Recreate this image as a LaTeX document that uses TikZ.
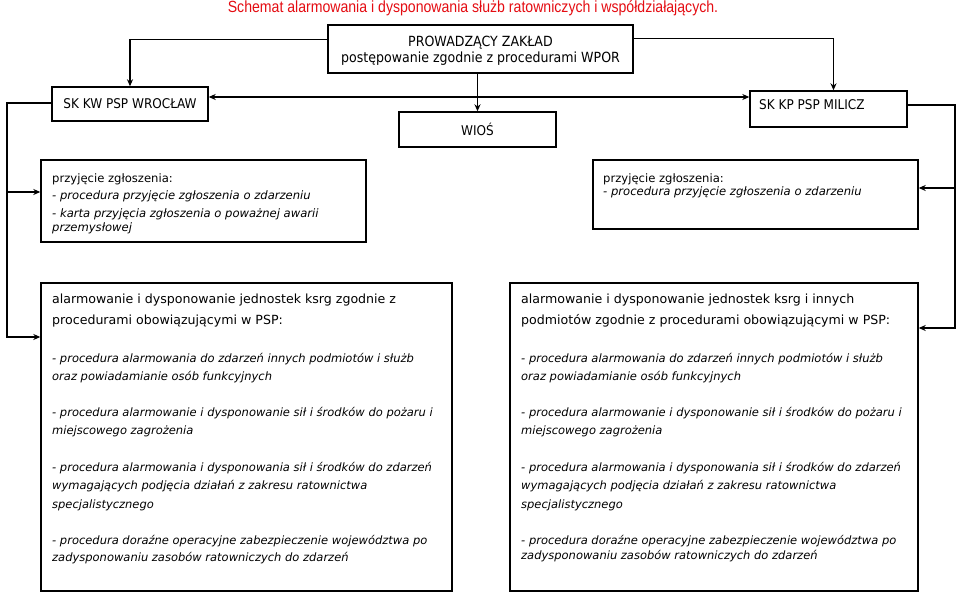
\documentclass[tikz,border=0pt]{standalone}
\usepackage{fontspec}
\setmainfont{DejaVu Sans}
\newfontfamily\titlefont[FakeStretch=0.87]{Liberation Sans}
\newfontfamily\topfont[FakeStretch=0.9]{DejaVu Sans}
\usetikzlibrary{arrows.meta,calc}
\definecolor{titlered}{RGB}{228,12,18}
\begin{document}
\begin{tikzpicture}[x=1pt,y=-1pt,
  box/.style={draw, line width=1.4pt, inner sep=0pt, rectangle},
  arr/.style={line width=1.4pt, -{Stealth[length=7pt,width=6pt]}},
  dbl/.style={line width=1.4pt, {Stealth[length=7pt,width=6pt]}-{Stealth[length=7pt,width=6pt]}},
  toptxt/.style={font=\topfont\fontsize{13.4}{16}\selectfont, align=center},
  smalltxt/.style={font=\fontsize{11.6}{14}\selectfont, inner sep=0pt, anchor=base west, align=left},
  regtxt/.style={font=\fontsize{12.6}{21}\selectfont, inner sep=0pt, anchor=base west, align=left},
  itxt/.style={font=\fontsize{11.5}{18.5}\selectfont\itshape, inner sep=0pt, anchor=base west, align=left}
]
\useasboundingbox (0,0) rectangle (959,593);

% title
\node[font=\titlefont\fontsize{16.2}{18}\selectfont, text=titlered, anchor=base, inner sep=0pt] (title) at (473,13)
  {Schemat alarmowania i dysponowania służb ratowniczych i współdziałających.};

% boxes
\node[box, minimum width=305pt, minimum height=48pt] (prow) at (480.5,49) {};
\node[font=\topfont\fontsize{14}{16}\selectfont, align=center, anchor=base, inner sep=0pt] (prowt) at (480.5,63)
  {PROWADZĄCY ZAKŁAD\\postępowanie zgodnie z procedurami WPOR};
\node[box, minimum width=156pt, minimum height=34pt, toptxt] (skkw) at (130,104) {SK KW PSP WROCŁAW};
\node[box, minimum width=157pt, minimum height=35pt, toptxt] (wios) at (477.5,129.5) {WIOŚ};
\node[box, minimum width=157pt, minimum height=36pt] (skkp) at (828.5,109) {};
\node[toptxt, anchor=base west, inner sep=0pt] (skkpt) at (759,110) {SK KP PSP MILICZ};

\node[box, minimum width=325pt, minimum height=82pt] (lprz) at (203.5,201) {};
\node[box, minimum width=325pt, minimum height=69pt] (rprz) at (755.5,194.5) {};
\node[box, minimum width=411pt, minimum height=308pt] (lbig) at (246.5,437) {};
\node[box, minimum width=408pt, minimum height=308pt] (rbig) at (714,437) {};

% texts of the reception boxes (anchored at the baseline of the last line)
\node[smalltxt] (lprzt) at (52,232)
  {przyjęcie zgłoszenia:\\[3pt]\textit{- procedura przyjęcie zgłoszenia o zdarzeniu}\\[4pt]\textit{- karta przyjęcia zgłoszenia o poważnej awarii}\\\textit{przemysłowej}};
\node[smalltxt] (rprzt) at (603,196)
  {przyjęcie zgłoszenia:\\[-1pt]\textit{- procedura przyjęcie zgłoszenia o zdarzeniu}};

% left big box texts
\node[regtxt] (l1) at (52,325) {alarmowanie i dysponowanie jednostek ksrg zgodnie z\\procedurami obowiązującymi w PSP:};
\node[itxt] (l2) at (52,381) {- procedura alarmowania do zdarzeń innych podmiotów i służb\\oraz powiadamianie osób funkcyjnych};
\node[itxt] (l3) at (52,435) {- procedura alarmowanie i dysponowanie sił i środków do pożaru i\\miejscowego zagrożenia};
\node[itxt] (l4) at (52,508) {- procedura alarmowania i dysponowania sił i środków do zdarzeń\\wymagających podjęcia działań z zakresu ratownictwa\\specjalistycznego};
\node[itxt, font=\fontsize{11.5}{17}\selectfont\itshape] (l5) at (52,561) {- procedura doraźne operacyjne zabezpieczenie województwa po\\zadysponowaniu zasobów ratowniczych do zdarzeń};

% right big box texts
\node[regtxt] (r1) at (521,325) {alarmowanie i dysponowanie jednostek ksrg i innych\\podmiotów zgodnie z procedurami obowiązującymi w PSP:};
\node[itxt] (r2) at (521,381) {- procedura alarmowania do zdarzeń innych podmiotów i służb\\oraz powiadamianie osób funkcyjnych};
\node[itxt] (r3) at (521,435) {- procedura alarmowanie i dysponowanie sił i środków do pożaru i\\miejscowego zagrożenia};
\node[itxt] (r4) at (521,508) {- procedura alarmowania i dysponowania sił i środków do zdarzeń\\wymagających podjęcia działań z zakresu ratownictwa\\specjalistycznego};
\node[itxt, font=\fontsize{11.5}{15}\selectfont\itshape] (r5) at (521,559) {- procedura doraźne operacyjne zabezpieczenie województwa po\\zadysponowaniu zasobów ratowniczych do zdarzeń};

% connectors
\draw[arr] ($(prow.north west)+(0,15)$) -| (skkw.north);
\draw[arr] ($(prow.north east)+(0,14)$) -| ($(skkp.north)+(5,0)$);
\draw[arr] (wios.north |- prow.south) -- (wios.north);
\coordinate (d1) at ($(skkw.east)+(0,-7)$);
\draw[dbl] (d1) -- (d1 -| skkp.west);

\coordinate (lt) at (7,103);
\coordinate (lm) at (7,192);
\coordinate (lb) at (7,337);
\draw[arr] (skkw.west |- lt) -- (lt) -- (lb) -- (lbig.west |- lb);
\draw[arr] (lm) -- (lprz.west |- lm);

\coordinate (rt) at (955,105);
\coordinate (rm) at (955,188);
\coordinate (rb) at (955,328);
\draw[arr] (skkp.east |- rt) -- (rt) -- (rb) -- (rbig.east |- rb);
\draw[arr] (rm) -- (rprz.east |- rm);
\end{tikzpicture}
\end{document}
